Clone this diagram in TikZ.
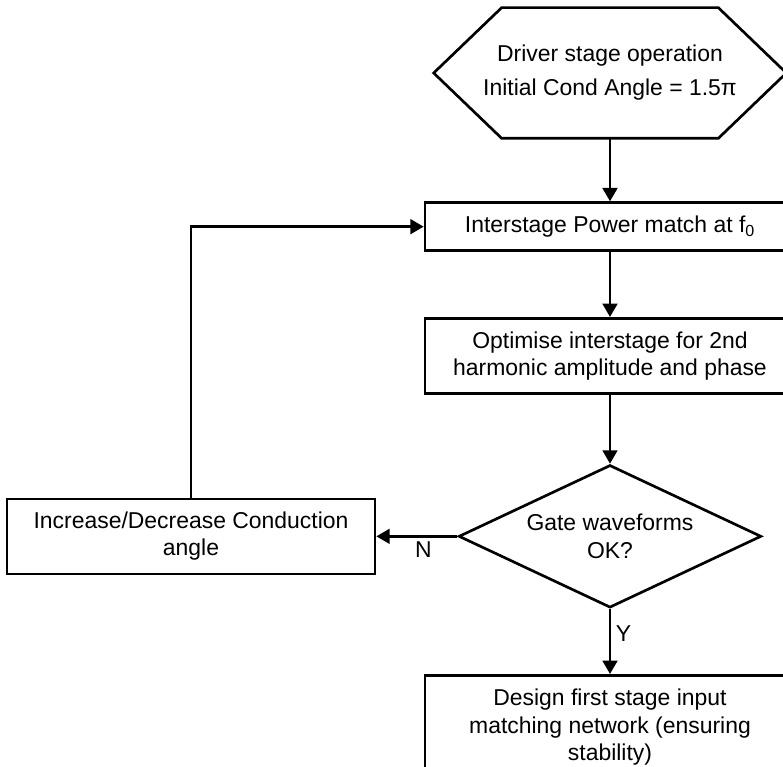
\documentclass[tikz,border=0pt]{standalone}
\usepackage{fontspec}
\setmainfont{Liberation Sans}
\usetikzlibrary{shapes.geometric, arrows.meta, positioning}

\begin{document}
\begin{tikzpicture}[
			x=0.75pt, y=-0.75pt,
			font=\fontsize{17.2}{20.5}\selectfont,
			line width=2pt,
			block/.style={draw, rectangle, align=center, minimum width=277.5pt, inner sep=2pt},
			start/.style={rectangle, align=center, minimum width=262.5pt, minimum height=96pt, inner sep=1pt},
			decision/.style={draw, diamond, aspect=2.1, align=center, inner sep=0pt,
				minimum width=227pt, minimum height=107pt},
			arrow/.style={-{Triangle[length=10pt, width=11pt]}}
			]
			\useasboundingbox (0,0) rectangle (783,767);
			
			% Nodes
			\node (driver) [start] at (610,73) {Driver stage operation\\[5pt]Initial Cond Angle = 1.5π};
			\node (power_match) [block, minimum height=36pt, below=47.25pt of driver] {Interstage Power match at f\textsubscript{0}};
			\node (optimise) [block, minimum height=56.25pt, below=48.75pt of power_match] {Optimise interstage for 2nd\\harmonic amplitude and phase};
			\node (gate) [decision, below=51.75pt of optimise] {Gate waveforms\\OK?};
			\node (angle) [block, minimum width=276pt, minimum height=56.25pt, left=60.75pt of gate] {Increase/Decrease Conduction\\angle};
			\node (design) [block, minimum height=78pt, below=48.75pt of gate] {Design first stage input\\matching network (ensuring\\stability)};
			
			% hexagon outline of the start node
			\draw (driver.west) -- ([xshift=51pt]driver.north west) -- ([xshift=-51pt]driver.north east)
				-- (driver.east) -- ([xshift=-51pt]driver.south east) -- ([xshift=51pt]driver.south west) -- cycle;
			
			% Connections
			\draw [arrow] (driver) -- (power_match);
			\draw [arrow] (power_match) -- (optimise);
			\draw [arrow] (optimise) -- (gate);
			\draw [arrow] (gate.west) -- node[pos=0.42, below] {N} (angle.east);
			\draw [arrow] (gate.south) -- node[pos=0.38, right] {Y} (design.north);
			\draw [arrow] (angle.north) |- (power_match.west);
			
		\end{tikzpicture}
\end{document}
